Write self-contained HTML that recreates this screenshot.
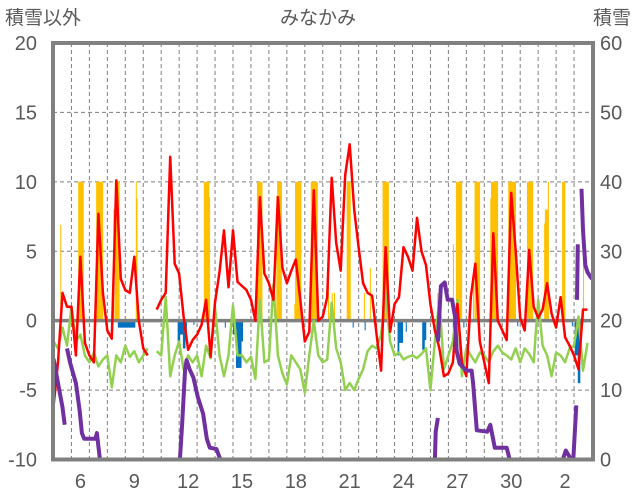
<!DOCTYPE html>
<html><head><meta charset="utf-8">
<style>
html,body{margin:0;padding:0;background:#fff;}
#wrap{position:relative;width:636px;height:501px;overflow:hidden;font-family:"Liberation Sans","Noto Sans CJK JP",sans-serif;}
svg text{font-family:"Liberation Sans","Noto Sans CJK JP",sans-serif;fill:#595959;}
</style></head>
<body>
<div id="wrap">
<svg id="chart" width="636" height="501">
<text x="5" y="24" font-size="19">積雪以外</text>
<text x="318" y="24" font-size="19" text-anchor="middle">みなかみ</text>
<text x="631" y="24" font-size="19" text-anchor="end">積雪</text>
</svg>
</div>
<script>
const dayLabels = ['5','6','7','8','9','10','11','12','13','14','15','16','17','18','19','20','21','22','23','24','25','26','27','28','29','30','31','1','2','3'];
const leftTicks = [20,15,10,5,0,-5,-10];
const rightTicks = [60,50,40,30,20,10,0];
// red series, 6-hourly from day 5 00:00
const redVals = [
-6.2,-3,2,1, 1,-2.5,4.6,-1.6, -2.5,-3,7.7,2, -0.7,-1.3,10.1,3, 2.2,2,4.6,0, -2,-2.5,null,0.8,
1.5,2,11.8,4.1, 3.4,0.3,-2.1,-1.4, -1,-0.3,1.5,-2.6, 1.3,3.5,6.5,2.4, 6.5,2.8,2.5,2.2, 1.5,0,8.9,3.4,
2.7,1.5,8.9,3.8, 2.7,3.6,4.4,1.5, -1.5,-0.8,9.4,0, 0.3,1.7,10.3,5.6, 3.6,10.5,12.7,8, 5.3,2.7,2,1.8,
-1,-3.6,5.3,-0.8, 1.2,1.7,5.3,4.6, 3.6,7.4,5,4, 1.2,-0.7,-2,-4, -3.8,-3,1.2,-3, -4,1.7,4.1,-1.5,
-3,-4.5,6.3,0, -0.7,-1.4,9.2,5, 0.2,-0.7,5.1,1, 0.2,0.8,2.7,0.5, -0.5,1.7,-1.2,-1.8, -2.5,-3.5,0.8,0.8];
// green series, 6-hourly
const greenVals = [
-1.5,-2,-0.5,-1.8, 1,-1.5,-1,-2.5, -3,-2.3,-3.3,-2.8, -2.5,-4.8,-2.5,-3, -1.8,-2.6,-2.2,-3, -2.5,-2,null,-2.2,
-2.5,1.7,-4,-2.5, -1.5,-3.5,-2.5,-3, -2.5,-4,-1.8,-2.7, 1,-2.5,-4,-2.5, 1.1,-2.5,-2.5,-3, -2.6,-4.2,1.5,-3,
-2.8,2.6,-2.5,-3.8, -4.6,-2.5,-3,-3.5, -5.2,-2.5,0,-2.5, -3,-2.8,1.3,-2, -3,-5,-4.5,-5, -4.2,-3.5,-2.2,-1.8,
-2,-1,2,-1.5, -2.5,-2.3,-2.8,-2.6, -2.5,-2.7,-2.4,-2, -5,-1.5,1.5,-3.5, -2.5,-1.5,1.5,-4, -2,-2.5,-3,-2.3,
-2.5,-3,-2.2,-1.8, -2.3,-2.5,-2.8,-2, -3,-2,-2.4,-3, 1.5,-1.8,-2.5,-4, -2.3,-2.5,-3,-2, -1.8,0.3,-3.6,-1.6];
// yellow bars: hour runs
const snowStart = [9,33,57,80,82,110,111,201,208,272,298,299,322,323,344,367,372,375,392,415,423,440,513,534,538,561,563,584,585,608,633,656,657,661,680,708];
const snowEnd   = [9,39,65,80,87,110,111,207,208,278,298,304,322,330,352,367,372,375,396,415,423,447,513,534,545,561,569,584,593,617,640,656,660,661,683,708];
const snowVal   = [6.9,10,10,8,10,10,8.8,10,8.9,10,9,10,1.2,10,10,2.9,2,2,10,2,3.8,10,2,5.5,10,3.8,10,8.8,10,10,10,7,8,10,10,4.6];
// blue bars: hour runs
const blueStart = [86,166,169,173,176,187,229,240,244,251,400,416,460,462,471,493,496,513,534,548,620,693,697,701,704];
const blueEnd   = [108,168,172,175,177,187,229,243,250,252,400,416,461,466,471,495,497,516,534,548,620,693,700,703,705];
const blueVal   = [-0.5,-1.6,-1,-2,-0.8,-0.3,-0.5,-1,-3.4,-1.5,-0.5,-0.7,-2.5,-1.6,-0.8,-2.1,-1.4,-1.2,-0.6,-0.5,-0.4,-0.4,-2.5,-4.5,-1.5];
// purple snow depth (right axis): hours & values, null = gap
const depthHours = [0,6,12,15,null,18,22,26,30,35,38,41,56,58,62,130,null,140,169,172,176,178,182,187,193,200,205,209,218,223,510,511,514,null,
514,518,523,527,533,537,539,543,552,559,561,566,580,584,590,606,610,681,685,692,695,699,null,700,701,null,706,708,711,714,720];
const depthVals  = [14.5,11,7.5,5,null,16,14,12.5,11,7,3.8,3,3,3.8,0,0,null,0,0,5,13,14.3,13,11.8,9,6.6,3,1.7,1.5,0,0,4,6,null,
17,25,25.5,23,23,20.5,15.7,13.8,12.8,12.8,11,4.2,4,5,1.7,1.7,0,0,1.3,0,0,7.8,null,23,31,null,39,33,28,27,26];

const NS='http://www.w3.org/2000/svg';
const svg=document.getElementById('chart');
const X0=53.5, DAYW=17.95, PL=53, PR=593, PT=43, PB=459.5;
function xh(h){return X0+h*DAYW/24;}
function yL(v){return PB+( (v+10)/30 )*(PT-PB);}
function yR(v){return PB+(v/60)*(PT-PB);}
function mk(tag,attrs,parent){const e=document.createElementNS(NS,tag);for(const k in attrs)e.setAttribute(k,attrs[k]);(parent||svg).appendChild(e);return e;}

const gGrid=mk('g',{});


for(let i=1;i<dayLabels.length;i++){
  const x=xh(i*24);
  const l=mk('line',{x1:x,x2:x,y1:PT,y2:PB,stroke:'#7f7f7f','stroke-width':1,'stroke-dasharray':'4,3'},gGrid);
  
  
}
leftTicks.forEach(v=>{
  if(v===20||v===-10||v===0)return;
  const y=yL(v);
  const l=mk('line',{x1:PL,x2:PR,y1:y,y2:y,stroke:'#7f7f7f','stroke-width':1,'stroke-dasharray':'4,3'},gGrid);
  
  
});

const gSnow=mk('g',{});


for(let i=0;i<snowStart.length;i++){
  for(let h=snowStart[i];h<=snowEnd[i];h++){
    const v=snowVal[i];
    const r=mk('rect',{x:xh(h),y:yL(v),width:DAYW/24+0.3,height:yL(0)-yL(v),fill:'#FFC000'},gSnow);
    
    
  }
}
const gBlue=mk('g',{});


for(let i=0;i<blueStart.length;i++){
  for(let h=blueStart[i];h<=blueEnd[i];h++){
    const v=blueVal[i];
    const r=mk('rect',{x:xh(h),y:yL(0),width:DAYW/24+0.3,height:yL(v)-yL(0),fill:'#0070C0'},gBlue);
    
    
  }
}
const z=mk('line',{x1:PL,x2:PR,y1:yL(0),y2:yL(0),stroke:'#808080','stroke-width':3.5});



function pathFrom(hours,vals,yf){
  let d='',pen=false;
  for(let i=0;i<vals.length;i++){
    if(vals[i]===null||hours[i]===null){pen=false;continue;}
    d+=(pen?'L':'M')+xh(hours[i]).toFixed(1)+','+yf(vals[i]).toFixed(1);
    pen=true;
  }
  return d;
}
const sixH=greenVals.map((_,i)=>i*6);
const gp=mk('path',{d:pathFrom(sixH,greenVals,yL),fill:'none',stroke:'#92D050','stroke-width':2.5,'stroke-linejoin':'round'});


const rp=mk('path',{d:pathFrom(redVals.map((_,i)=>i*6),redVals,yL),fill:'none',stroke:'#FF0000','stroke-width':2.5,'stroke-linejoin':'round'});


const pp=mk('path',{d:pathFrom(depthHours,depthVals,yR),fill:'none',stroke:'#7030A0','stroke-width':4,'stroke-linejoin':'round'});



const fr=mk('rect',{x:PL,y:PT,width:PR-PL,height:PB-PT,fill:'none',stroke:'#808080','stroke-width':4});



leftTicks.forEach(v=>{
  const t=mk('text',{x:37,y:yL(v)+7,'font-size':20,'text-anchor':'end'});
  t.textContent=v;
  
  
});
rightTicks.forEach(v=>{
  const t=mk('text',{x:600,y:yR(v)+7,'font-size':20,'text-anchor':'start'});
  t.textContent=v;
  
  
});
for(let i=1;i<dayLabels.length;i+=3){
  const t=mk('text',{x:xh(i*24+12),y:488,'font-size':20,'text-anchor':'middle'});
  t.textContent=dayLabels[i];
  
  
}
</script>
</body></html>
